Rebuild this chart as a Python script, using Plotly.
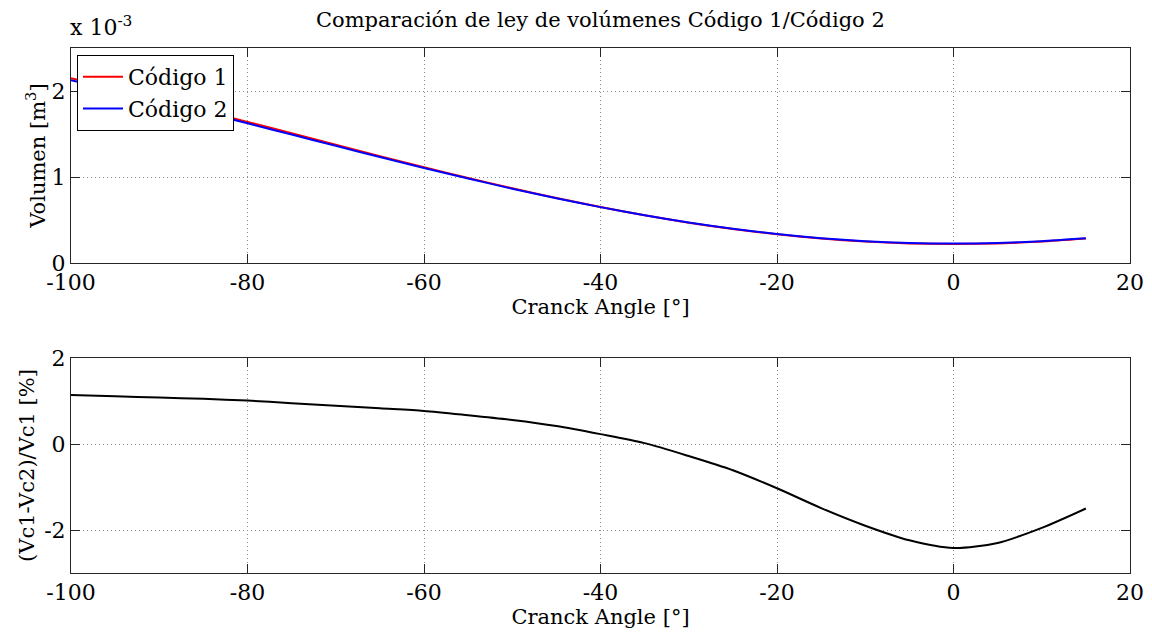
import plotly.graph_objects as go

# Crank angle [deg]
angle = [-100, -95, -90, -85, -80, -75, -70, -65, -60, -55, -50, -45, -40,
         -35, -30, -25, -20, -15, -10, -5, 0, 5, 10, 15]
# Volume, units of 1e-3 m^3
vol_code1 = [2.150, 2.029, 1.902, 1.773, 1.641, 1.508, 1.375, 1.243, 1.114,
             0.989, 0.869, 0.756, 0.651, 0.555, 0.469, 0.395, 0.333, 0.284,
             0.249, 0.227, 0.220, 0.227, 0.249, 0.284]
vol_code2 = [2.1255, 2.0065, 1.8815, 1.7544, 1.6244, 1.4937, 1.3628, 1.2327,
             1.1054, 0.9824, 0.8641, 0.7528, 0.6495, 0.5549, 0.4703, 0.3974,
             0.3364, 0.2882, 0.2537, 0.2321, 0.2253, 0.2322, 0.2539, 0.2883]
# (Vc1-Vc2)/Vc1 [%]
rel_diff = [1.14, 1.11, 1.08, 1.05, 1.01, 0.95, 0.89, 0.83, 0.77, 0.67, 0.56,
            0.42, 0.23, 0.02, -0.28, -0.61, -1.03, -1.49, -1.90, -2.24, -2.42,
            -2.30, -1.95, -1.50]

x_ticks = [-100, -80, -60, -40, -20, 0, 20]
x_tick_text = ["-100", "-80", "-60", "-40", "-20", "0", "20"]
top_ticks = [0, 1, 2]
top_tick_text = ["0", "1", "2"]
bot_ticks = [-2, 0, 2]
bot_tick_text = ["-2", "0", "2"]

FONT = "DejaVu Serif"
W, H = 1152, 639

fig = go.Figure()
fig.add_trace(go.Scatter(x=angle, y=vol_code1, mode="lines", name="Código 1",
                         line=dict(color="#ff0000", width=2, shape="spline", smoothing=0.6),
                         xaxis="x", yaxis="y"))
fig.add_trace(go.Scatter(x=angle, y=vol_code2, mode="lines", name="Código 2",
                         line=dict(color="#0000ff", width=2, shape="spline", smoothing=0.6),
                         xaxis="x", yaxis="y"))
fig.add_trace(go.Scatter(x=angle, y=rel_diff, mode="lines", showlegend=False,
                         line=dict(color="#000000", width=2, shape="spline", smoothing=0.8),
                         xaxis="x2", yaxis="y2"))

xdom = [71 / W, 1130 / W]
axis_common = dict(
    showline=True, linecolor="#262626", linewidth=1, mirror="ticks",
    ticks="inside", ticklen=9, tickcolor="#262626",
    showgrid=True, gridcolor="#8c8c8c", griddash="1px,3px", gridwidth=1,
    zeroline=False, automargin=False,
    tickfont=dict(family=FONT, size=22, color="black"),
)
title_font = dict(family=FONT, size=21, color="black")

fig.update_layout(
    width=W, height=H,
    margin=dict(l=0, r=0, t=0, b=0),
    paper_bgcolor="white", plot_bgcolor="white",
    font=dict(family=FONT, color="black"),
    xaxis=dict(domain=xdom, range=[-100, 20], tickvals=x_ticks, ticktext=x_tick_text,
               anchor="y",
               title=dict(text="Cranck Angle [°]", font=title_font, standoff=1),
               **axis_common),
    yaxis=dict(domain=[(H - 263) / H, (H - 48) / H], range=[0, 2.5],
               tickvals=top_ticks, ticktext=top_tick_text, anchor="x",
               title=dict(text="Volumen [m<sup>3</sup>]", font=title_font, standoff=0),
               **axis_common),
    xaxis2=dict(domain=xdom, range=[-100, 20], tickvals=x_ticks, ticktext=x_tick_text,
                anchor="y2",
                title=dict(text="Cranck Angle [°]", font=title_font, standoff=0),
                **axis_common),
    yaxis2=dict(domain=[(H - 573) / H, (H - 358) / H], range=[-3, 2],
                tickvals=bot_ticks, ticktext=bot_tick_text, anchor="x2",
                title=dict(text="(Vc1-Vc2)/Vc1 [%]", font=title_font, standoff=3),
                **axis_common),
    legend=dict(x=77 / W, y=(H - 55) / H, xanchor="left", yanchor="top",
                bgcolor="white", bordercolor="black", borderwidth=1,
                font=dict(family=FONT, size=22, color="black"), tracegroupgap=0,
                itemwidth=40),
    showlegend=True,
    annotations=[
        dict(text="Comparación de ley de volúmenes Código 1/Código 2",
             x=600 / W, y=(H - 20) / H, xref="paper", yref="paper",
             xanchor="center", yanchor="middle", showarrow=False,
             font=dict(family=FONT, size=21, color="black")),
        dict(text="x 10<sup>-3</sup>", x=68 / W, y=(H - 42) / H,
             xref="paper", yref="paper", xanchor="left", yanchor="bottom",
             showarrow=False, font=dict(family=FONT, size=22, color="black")),
    ],
)

fig.write_html("out.html")
